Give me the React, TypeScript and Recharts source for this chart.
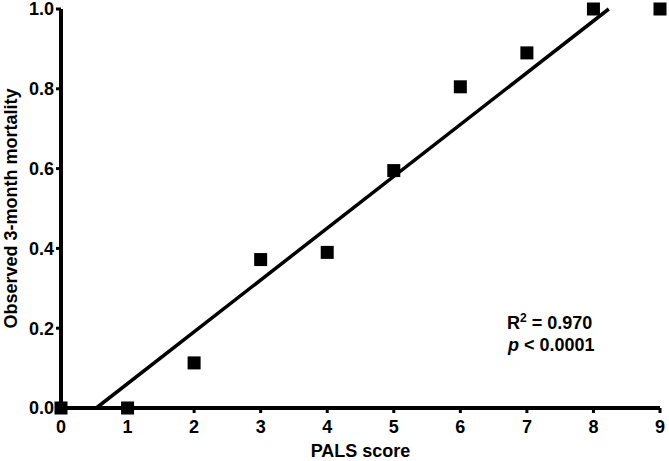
import React from 'react';
import { ScatterChart, Scatter, XAxis, YAxis } from 'recharts';

const palsScore = [0, 1, 2, 3, 4, 5, 6, 7, 8, 9];
const mortality = [0, 0, 0.113, 0.372, 0.39, 0.595, 0.805, 0.89, 1.0, 1.0];
const fitX = [0.53, 8.23];
const fitY = [0, 1.0];
const xTicks = [0, 1, 2, 3, 4, 5, 6, 7, 8, 9];
const yTicks = [0, 0.2, 0.4, 0.6, 0.8, 1.0];

const points = palsScore.map((x, i) => ({ x, y: mortality[i] }));
const fit = fitX.map((x, i) => ({ x, y: fitY[i] }));

const FONT = '"Liberation Sans", Arial, Helvetica, sans-serif';

const Square = (props: any) => {
  const { cx, cy } = props;
  if (cx == null || cy == null) return <g />;
  return <rect x={cx - 6.5} y={cy - 6.5} width={13} height={13} fill="#000" />;
};

const YLabel = (props: any) => {
  const vb = props.viewBox || { x: 0, y: 9, width: 61, height: 399 };
  const cx = vb.x + 17;
  const cy = vb.y + vb.height / 2;
  return (
    <text
      x={cx}
      y={cy}
      transform={`rotate(-90, ${cx}, ${cy})`}
      textAnchor="middle"
      fontFamily={FONT}
      fontWeight="bold"
      fontSize={18}
      fill="#000"
    >
      Observed 3-month mortality
    </text>
  );
};

const XLabel = (props: any) => {
  const vb = props.viewBox || { x: 61, y: 408, width: 599, height: 53 };
  return (
    <text
      x={vb.x + vb.width / 2}
      y={vb.y + 49}
      textAnchor="middle"
      fontFamily={FONT}
      fontWeight="bold"
      fontSize={18}
      fill="#000"
    >
      PALS score
    </text>
  );
};

const tickStyle = { fontFamily: FONT, fontWeight: 'bold' as const, fontSize: 18, fill: '#000' };

export default function App() {
  return (
    <div style={{ position: 'absolute', left: 0, top: 0, width: 669, height: 461, background: '#fff' }}>
      <ScatterChart width={669} height={461} margin={{ top: 9, right: 9, bottom: 0, left: 0 }}>
        <XAxis
          type="number"
          dataKey="x"
          domain={[0, 9]}
          ticks={xTicks}
          interval={0}
          height={53}
          axisLine={{ stroke: '#000', strokeWidth: 4 }}
          tickLine={{ stroke: '#000', strokeWidth: 3 }}
          tickSize={5}
          tickMargin={7}
          tick={tickStyle}
          allowDecimals={false}
          label={<XLabel />}
        />
        <YAxis
          type="number"
          dataKey="y"
          domain={[0, 1]}
          ticks={yTicks}
          interval={0}
          width={61}
          axisLine={{ stroke: '#000', strokeWidth: 4 }}
          tickLine={{ stroke: '#000', strokeWidth: 3 }}
          tickSize={5}
          tickMargin={2}
          tick={tickStyle}
          tickFormatter={(v: number) => v.toFixed(1)}
          label={<YLabel />}
        />
        <Scatter
          data={fit}
          line={{ stroke: '#000', strokeWidth: 3.5 }}
          shape={() => <g />}
          isAnimationActive={false}
        />
        <Scatter data={points} shape={<Square />} isAnimationActive={false} />
      </ScatterChart>
      <svg
        width={669}
        height={461}
        style={{ position: 'absolute', left: 0, top: 0, pointerEvents: 'none' }}
      >
        <text x={507} y={329} fontFamily={FONT} fontWeight="bold" fontSize={18} fill="#000">
          <tspan>R</tspan>
          <tspan dy={-7} fontSize={12}>2</tspan>
          <tspan dy={7}> = 0.970</tspan>
        </text>
        <text x={508} y={351} fontFamily={FONT} fontWeight="bold" fontSize={18} fill="#000">
          <tspan fontStyle="italic">p</tspan>
          <tspan> &lt; 0.0001</tspan>
        </text>
      </svg>
    </div>
  );
}
